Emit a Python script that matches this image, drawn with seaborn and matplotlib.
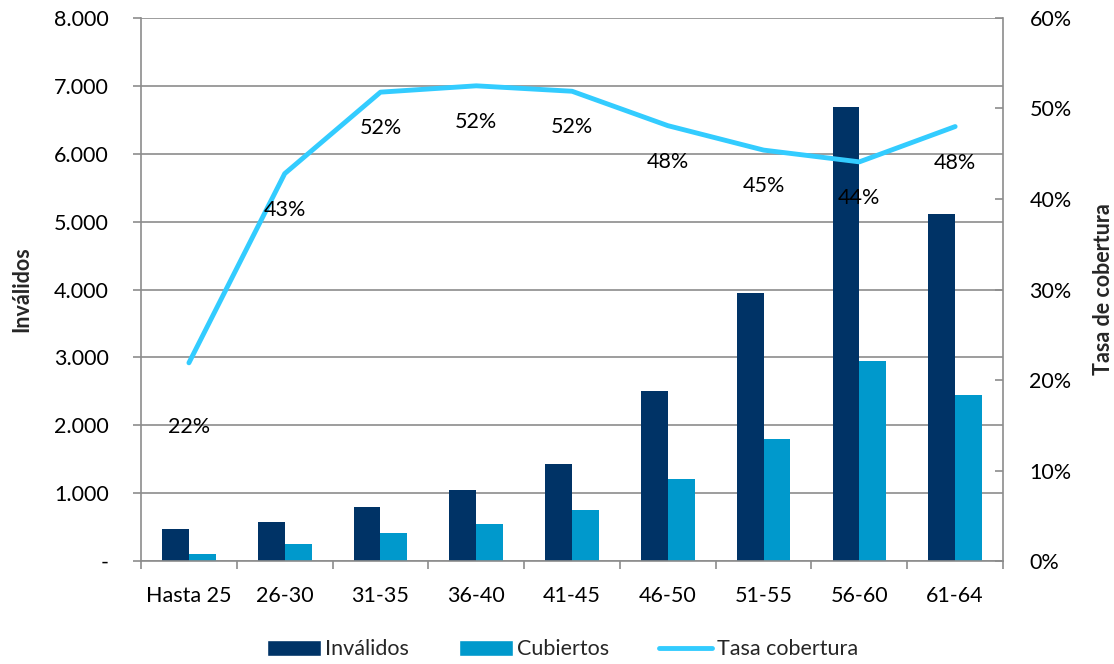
import matplotlib

matplotlib.use("Agg")
import matplotlib.pyplot as plt
import numpy as np
import pandas as pd
import seaborn as sns
from matplotlib.lines import Line2D
from matplotlib.patches import Patch
from matplotlib.ticker import FuncFormatter, MultipleLocator

# values
age_groups = ["Hasta 25", "26-30", "31-35", "36-40", "41-45", "46-50", "51-55", "56-60", "61-64"]
invalidos = [471, 574, 795, 1046, 1429, 2504, 3947, 6686, 5110]
cubiertos = [103, 250, 412, 545, 751, 1208, 1797, 2946, 2445]
tasa = [0.219, 0.428, 0.518, 0.525, 0.519, 0.481, 0.454, 0.441, 0.480]
tasa_labels = ["22%", "43%", "52%", "52%", "52%", "48%", "45%", "44%", "48%"]

NAVY = "#003366"
BLUE = "#0099CC"
LIGHT = "#33CCFF"
GRID = "#8c8c8c"
FS = 15.5

sns.set_theme(style="white")
plt.rcParams["font.family"] = ["Lato", "DejaVu Sans"]

bars = pd.DataFrame({
    "grupo": age_groups * 2,
    "valor": invalidos + cubiertos,
    "serie": ["Inválidos"] * len(age_groups) + ["Cubiertos"] * len(age_groups),
})

fig = plt.figure(figsize=(11.14, 6.64), dpi=100)
ax = fig.add_axes([0.1266, 0.155, 0.7738, 0.818])

sns.barplot(
    data=bars, x="grupo", y="valor", hue="serie", order=age_groups,
    palette=[NAVY, BLUE], width=0.56, gap=0, linewidth=0, saturation=1,
    legend=False, ax=ax,
)
ax.set_ylim(0, 8000)
ax.set_xlim(-0.5, len(age_groups) - 0.5)
ax.yaxis.set_major_locator(MultipleLocator(1000))
ax.yaxis.set_major_formatter(FuncFormatter(lambda v, _: "-" if v == 0 else f"{v:,.0f}".replace(",", ".")))
ax.grid(axis="y", color=GRID, linewidth=1.2)
ax.set_axisbelow(True)
ax.set_xlabel("")
ax.set_ylabel("Inválidos", fontsize=FS, fontweight="bold", labelpad=16)

for side in ["left", "bottom", "right"]:
    ax.spines[side].set_color(GRID)
    ax.spines[side].set_linewidth(1.2)
ax.spines["top"].set_visible(False)

ax.tick_params(axis="y", left=True, length=6, width=1.2, color=GRID, pad=17, labelsize=FS, labelcolor="black")
ax.tick_params(axis="x", which="major", length=0, pad=18, labelsize=FS, labelcolor="black")
ax.set_xticks(np.arange(len(age_groups) + 1) - 0.5, minor=True)
ax.tick_params(axis="x", which="minor", bottom=True, length=6, width=1.2, color=GRID)

ax2 = ax.twinx()
x_pos = np.arange(len(age_groups))
sns.lineplot(x=x_pos, y=tasa, color=LIGHT, linewidth=3.5, ax=ax2)
ax2.set_ylim(0, 0.6)
ax2.yaxis.set_major_locator(MultipleLocator(0.1))
ax2.yaxis.set_major_formatter(FuncFormatter(lambda v, _: f"{v:.0%}"))
ax2.tick_params(axis="y", right=True, direction="in", length=6, width=1.2, color=GRID, pad=19, labelsize=FS, labelcolor="black")
ax2.set_ylabel("Tasa de cobertura", fontsize=FS, fontweight="bold", labelpad=15)
for side in ["left", "bottom", "right", "top"]:
    ax2.spines[side].set_visible(False)

for i, (v, lab) in enumerate(zip(tasa, tasa_labels)):
    dy = -46 if i == 0 else -26
    ax2.annotate(lab, (x_pos[i], v), xytext=(0, dy), textcoords="offset points",
                 ha="center", va="center", fontsize=FS, color="black")

handles = [
    Patch(facecolor=NAVY, label="Inválidos"),
    Patch(facecolor=BLUE, label="Cubiertos"),
    Line2D([], [], color=LIGHT, linewidth=3.5, label="Tasa cobertura"),
]
fig.legend(handles=handles, loc="center", bbox_to_anchor=(0.505, 0.022), ncol=3, frameon=False,
           fontsize=FS, handlelength=2.5, handleheight=0.8, handletextpad=0.2, columnspacing=2.3)

fig.savefig("out.png", dpi=100)
